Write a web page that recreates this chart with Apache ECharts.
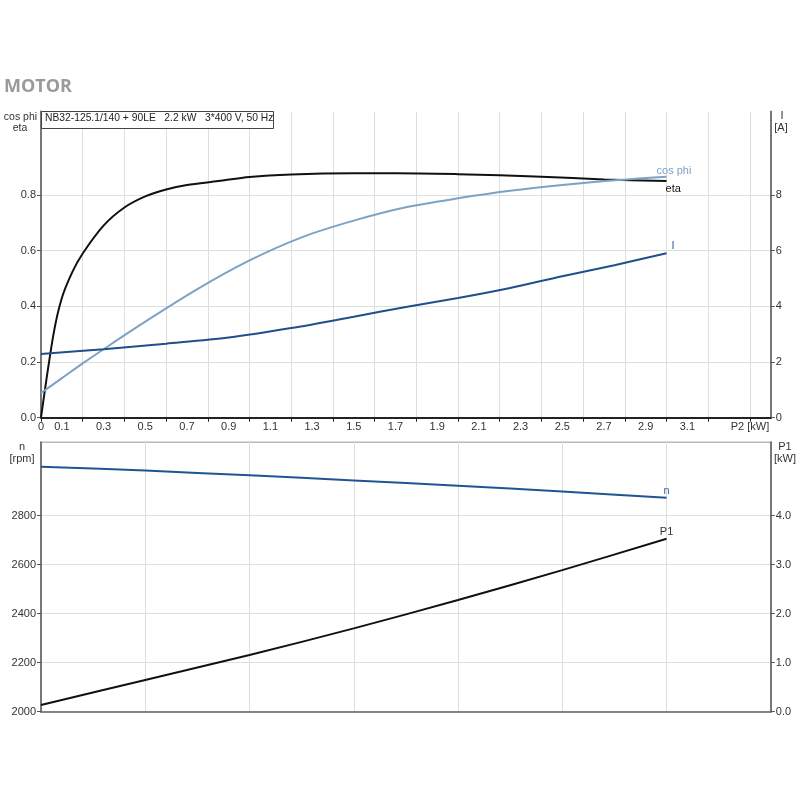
<!DOCTYPE html>
<html>
<head>
<meta charset="utf-8">
<script src="https://cdn.jsdelivr.net/npm/echarts@6/dist/echarts.min.js"></script>
<style>
html,body{margin:0;padding:0;background:#fff;}
#c{width:800px;height:800px;}
</style>
</head>
<body>
<div id="c"></div>
<script>
// ---- data ----
const P2_ETA = [0, 0.06, 0.1, 0.15, 0.2, 0.3, 0.4, 0.5, 0.6, 0.7, 0.85, 1.0, 1.2, 1.5, 1.7, 2.0, 2.2, 2.4, 2.7, 3.0];
const ETA    = [0, 0.30, 0.43, 0.523, 0.59, 0.69, 0.755, 0.795, 0.82, 0.836, 0.85, 0.865, 0.874, 0.878, 0.878, 0.875, 0.871, 0.866, 0.856, 0.850];

const P2_COS = [0, 0.1, 0.2, 0.3, 0.5, 0.75, 1.0, 1.25, 1.5, 1.75, 2.0, 2.25, 2.5, 2.75, 3.0];
const COSPHI = [0.089, 0.142, 0.195, 0.246, 0.345, 0.462, 0.565, 0.648, 0.708, 0.756, 0.788, 0.815, 0.836, 0.853, 0.866];

const P2_I = [0, 0.3, 0.6, 0.9, 1.2, 1.5, 1.75, 2.0, 2.25, 2.5, 2.75, 3.0];
const CURRENT = [2.29, 2.46, 2.66, 2.88, 3.22, 3.63, 3.98, 4.30, 4.66, 5.08, 5.48, 5.905];

const P2_BOT = [0, 0.5, 1.0, 1.5, 2.0, 2.5, 3.0];
const SPEED  = [3000, 2984, 2965, 2944, 2922, 2899, 2873];
const P1     = [0.137, 0.647, 1.157, 1.70, 2.28, 2.89, 3.53];

const X_TICKS  = [0, 0.2, 0.4, 0.6, 0.8, 1.0, 1.2, 1.4, 1.6, 1.8, 2.0, 2.2, 2.4, 2.6, 2.8, 3.0, 3.2, 3.4];
const X_LABELS = [0, 0.1, 0.3, 0.5, 0.7, 0.9, 1.1, 1.3, 1.5, 1.7, 1.9, 2.1, 2.3, 2.5, 2.7, 2.9, 3.1, 3.4];
const ETA_TICKS = [0, 0.2, 0.4, 0.6, 0.8];
const I_TICKS = [0, 2, 4, 6, 8];
const N_TICKS = [2000, 2200, 2400, 2600, 2800];
const P1_TICKS = [0, 1, 2, 3, 4];

const TITLE = 'MOTOR';
const INFO = 'NB32-125.1/140 + 90LE   2.2 kW   3*400 V, 50 Hz';

// ---- build ----
const FONT = 'Liberation Sans, Arial, sans-serif';
const zip = (xs, ys) => xs.map((x, i) => [x, ys[i]]);
const grid0 = { left: 41, right: 29.2, top: 111.5, height: 306.2 };
const grid1 = { left: 41, right: 29.2, top: 442.2, height: 269.5, show: true, borderColor: '#999', borderWidth: 1 };
const splitStyle = { lineStyle: { color: '#dedede', width: 1 } };
const axisLblBase = { color: '#333', fontFamily: FONT, fontSize: 11 };

function lineSeries(name, xi, yi, xs, ys, color, lbl) {
  return {
    name, type: 'line', xAxisIndex: xi, yAxisIndex: yi, showSymbol: false,
    smooth: 0.3,
    lineStyle: { color, width: 2 }, itemStyle: { color },
    endLabel: Object.assign({ show: true, formatter: name, fontFamily: FONT, fontSize: 11, distance: 0 }, lbl),
    data: zip(xs, ys)
  };
}

const option = {
  animation: false,
  backgroundColor: '#fff',
  grid: [grid0, grid1],
  xAxis: [
    {
      gridIndex: 0, type: 'value', min: 0, max: 3.5, interval: 0.1,
      axisLine: { show: true, lineStyle: { color: '#222', width: 2 } },
      axisTick: { show: true, length: 4, customValues: X_TICKS, lineStyle: { color: '#222' } },
      splitLine: Object.assign({ show: true }, splitStyle),
      axisLabel: Object.assign({}, axisLblBase, {
        margin: 4, customValues: X_LABELS,
        formatter: v => {
          const t = Math.round(v * 10);
          if (t === 34) return 'P2 [kW]';
          return t === 0 ? '0' : (t / 10).toFixed(1);
        }
      })
    },
    {
      gridIndex: 1, type: 'value', min: 0, max: 3.5, interval: 0.5,
      axisLine: { show: true, lineStyle: { color: '#666', width: 1.5 } },
      axisTick: { show: false }, axisLabel: { show: false },
      splitLine: Object.assign({ show: true }, splitStyle)
    }
  ],
  yAxis: [
    {
      gridIndex: 0, type: 'value', min: 0, max: 1.1, interval: 0.1, position: 'left',
      axisLine: { show: true, lineStyle: { color: '#777', width: 2 } },
      axisTick: { show: true, length: 4, customValues: ETA_TICKS, lineStyle: { color: '#555' } },
      splitLine: Object.assign({ show: true }, splitStyle),
      axisLabel: Object.assign({}, axisLblBase, { margin: 5, customValues: ETA_TICKS, formatter: v => v.toFixed(1) })
    },
    {
      gridIndex: 0, type: 'value', min: 0, max: 11, interval: 1, position: 'right',
      axisLine: { show: true, lineStyle: { color: '#777', width: 2 } },
      axisTick: { show: true, length: 4, customValues: I_TICKS, lineStyle: { color: '#555' } },
      splitLine: { show: false },
      axisLabel: Object.assign({}, axisLblBase, { margin: 5, customValues: I_TICKS, formatter: v => String(Math.round(v)) })
    },
    {
      gridIndex: 1, type: 'value', min: 2000, max: 3100, interval: 100, position: 'left',
      axisLine: { show: true, lineStyle: { color: '#777', width: 2 } },
      axisTick: { show: true, length: 4, customValues: N_TICKS, lineStyle: { color: '#555' } },
      splitLine: Object.assign({ show: true }, splitStyle),
      axisLabel: Object.assign({}, axisLblBase, { margin: 5, customValues: N_TICKS, formatter: v => String(Math.round(v)) })
    },
    {
      gridIndex: 1, type: 'value', min: 0, max: 5.5, interval: 0.5, position: 'right',
      axisLine: { show: true, lineStyle: { color: '#777', width: 2 } },
      axisTick: { show: true, length: 4, customValues: P1_TICKS, lineStyle: { color: '#555' } },
      splitLine: { show: false },
      axisLabel: Object.assign({}, axisLblBase, { margin: 5, customValues: P1_TICKS, formatter: v => v.toFixed(1) })
    }
  ],
  series: [
    lineSeries('eta', 0, 0, P2_ETA, ETA, '#111', { color: '#111', align: 'left', verticalAlign: 'middle', offset: [-1, 8] }),
    lineSeries('cos phi', 0, 0, P2_COS, COSPHI, '#7ea2c4', { color: '#7ea2c4', align: 'left', verticalAlign: 'middle', offset: [-10, -6] }),
    lineSeries('I', 0, 1, P2_I, CURRENT, '#1f4f8c', { color: '#3a62a0', align: 'left', verticalAlign: 'middle', offset: [5, -7] }),
    lineSeries('n', 1, 2, P2_BOT, SPEED, '#1f5591', { color: '#3a62a0', align: 'center', verticalAlign: 'bottom', offset: [0, -1] }),
    lineSeries('P1', 1, 3, P2_BOT, P1, '#111', { color: '#333', align: 'center', verticalAlign: 'bottom', offset: [0, -1] })
  ],
  graphic: [
    { type: 'text', left: 4, top: 78, style: { text: TITLE, fontFamily: 'Open Sans, Liberation Sans, sans-serif', fontWeight: 'bold', fontSize: 18, fill: '#9a9a9a' } },
    { type: 'rect', left: 41, top: 111, z: 100, shape: { width: 232, height: 17 }, style: { fill: '#fff', stroke: '#444', lineWidth: 1 } },
    { type: 'text', left: 45, top: 113.5, z: 101, style: { text: INFO, fontFamily: FONT, fontSize: 10.3, fill: '#222' } },
    { type: 'text', x: 20.5, y: 117, style: { text: 'cos phi', fontFamily: FONT, fontSize: 10.5, fill: '#333', align: 'center', verticalAlign: 'middle' } },
    { type: 'text', x: 20, y: 128, style: { text: 'eta', fontFamily: FONT, fontSize: 10.5, fill: '#333', align: 'center', verticalAlign: 'middle' } },
    { type: 'text', x: 782, y: 116, style: { text: 'I', fontFamily: FONT, fontSize: 11, fill: '#333', align: 'center', verticalAlign: 'middle' } },
    { type: 'text', x: 781, y: 128, style: { text: '[A]', fontFamily: FONT, fontSize: 11, fill: '#333', align: 'center', verticalAlign: 'middle' } },
    { type: 'text', x: 22, y: 447, style: { text: 'n', fontFamily: FONT, fontSize: 11, fill: '#333', align: 'center', verticalAlign: 'middle' } },
    { type: 'text', x: 22, y: 459, style: { text: '[rpm]', fontFamily: FONT, fontSize: 11, fill: '#333', align: 'center', verticalAlign: 'middle' } },
    { type: 'text', x: 785, y: 447, style: { text: 'P1', fontFamily: FONT, fontSize: 11, fill: '#333', align: 'center', verticalAlign: 'middle' } },
    { type: 'text', x: 785, y: 459, style: { text: '[kW]', fontFamily: FONT, fontSize: 11, fill: '#333', align: 'center', verticalAlign: 'middle' } }
  ]
};
const chart = echarts.init(document.getElementById('c'), null, { renderer: 'canvas' });
chart.setOption(option);
</script>
</body>
</html>
